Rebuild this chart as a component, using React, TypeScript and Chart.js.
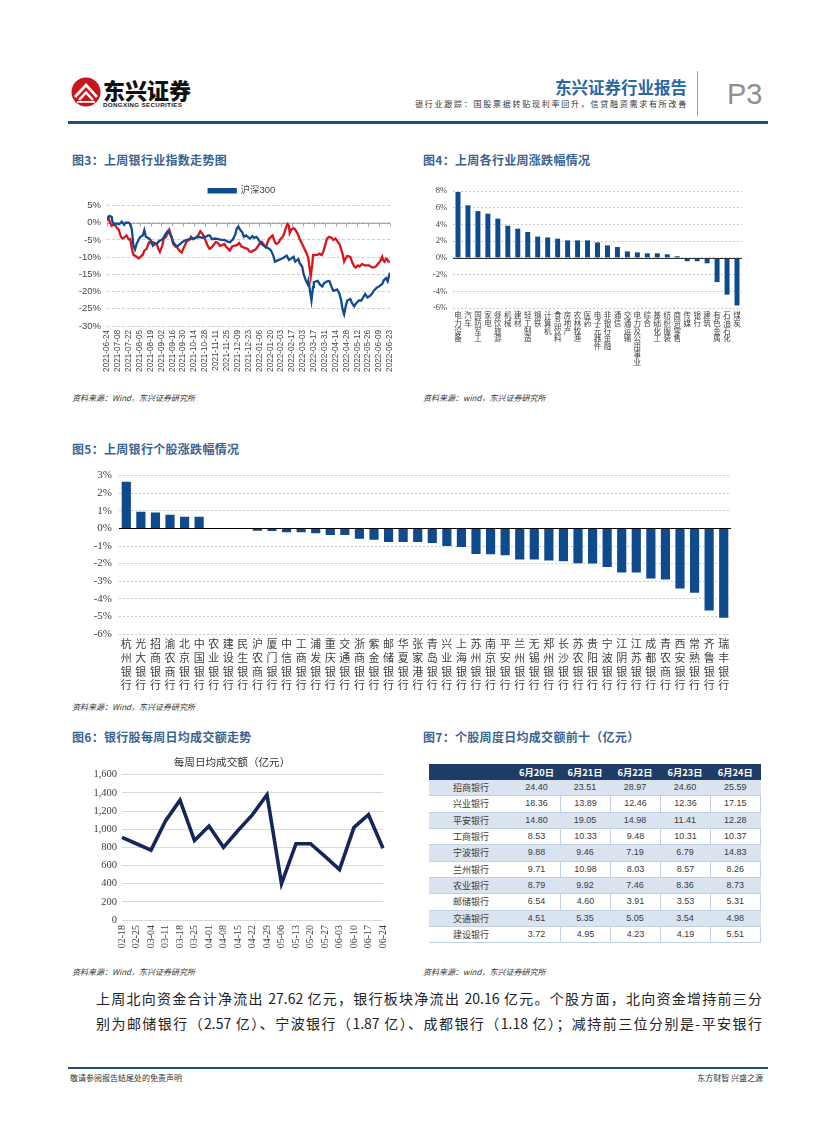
import React, { useEffect, useRef } from "react";
import { Chart, registerables } from "chart.js";

Chart.register(...registerables);

// ---------------- Fig 3: index trend ----------------
const fig3TickLabels = [
  "2021-06-24", "2021-07-08", "2021-07-22", "2021-08-05", "2021-08-19", "2021-09-02",
  "2021-09-16", "2021-09-30", "2021-10-14", "2021-10-28", "2021-11-11", "2021-11-25",
  "2021-12-09", "2021-12-23", "2022-01-06", "2022-01-20", "2022-02-03", "2022-02-17",
  "2022-03-03", "2022-03-17", "2022-03-31", "2022-04-14", "2022-04-28", "2022-05-12",
  "2022-05-26", "2022-06-09", "2022-06-23",
];
const fig3HsDays = [
  0, 3, 6, 7, 10, 12, 16, 19, 22, 24, 28, 30, 32, 34, 36, 38, 41, 43, 46, 48, 50, 54, 56, 59, 62,
  65, 67, 70, 72, 75, 78, 80, 83, 85, 88, 90, 94, 97, 101, 105, 109, 114, 118, 122, 126, 130, 132,
  135, 139, 143, 147, 151, 156, 158, 162, 165, 167, 169, 171, 174, 176, 179, 181, 184, 187, 189,
  192, 194, 197, 199, 202, 205, 209, 211, 214, 216, 219, 223, 227, 231, 234, 237, 240, 242, 246,
  248, 251, 253, 256, 258, 259, 261, 263, 265, 266, 269, 271, 274, 277, 279, 283, 286, 289, 291,
  294, 296, 299, 301, 303, 305, 307, 309, 313, 315, 318, 320, 324, 327, 330, 332, 335, 338, 341,
  343, 347, 350, 354, 356, 359, 361, 362, 364,
];
const fig3HsValues = [
  1.2, 2.0, 1.7, 0.3, -0.6, -0.2, -0.4, 0.3, -0.6, 0, 0, -0.4, -2.0, -6.7, -7.8, -6.2, -4.8, -4.1,
  -3.7, -2.2, -4.1, -4.6, -5.0, -6.7, -6.2, -5.9, -5.3, -5.0, -4.6, -3.4, -2.5, -3.0, -4.1, -5.6,
  -6.5, -6.9, -6.2, -5.6, -5.1, -4.8, -4.6, -4.4, -4.1, -4.4, -4.2, -3.7, -3.7, -4.8, -4.6, -4.8,
  -5.0, -5.0, -5.6, -5.7, -4.8, -3.4, -1.6, -1.1, -2.0, -2.8, -4.1, -3.7, -4.1, -4.6, -3.9, -4.4,
  -4.1, -4.6, -5.7, -6.2, -6.7, -7.1, -7.6, -8.1, -9.6, -11.3, -11.0, -10.6, -10.2, -9.6, -10.8,
  -10.4, -9.9, -11.3, -10.6, -11.8, -12.7, -15.0, -16.9, -17.8, -16.9, -19.6, -22.6, -18.7, -17.3,
  -17.0, -16.9, -18.0, -18.5, -17.6, -17.0, -16.9, -18.7, -19.8, -19.6, -19.4, -20.6, -22.4, -25.2,
  -26.6, -24.3, -22.6, -22.2, -23.3, -24.3, -23.5, -22.6, -22.6, -21.5, -20.7, -21.7, -21.3, -20.6,
  -19.8, -18.9, -18.5, -17.8, -16.7, -16.1, -17.0, -16.1, -14.5,
];
const fig3BankDays = [
  0, 2, 4, 6, 10, 12, 15, 18, 20, 23, 25, 28, 30, 32, 34, 36, 38, 41, 43, 46, 48, 51, 54, 56, 59,
  61, 64, 66, 68, 71, 73, 76, 78, 80, 83, 85, 88, 90, 93, 96, 98, 101, 103, 106, 108, 111, 114, 117,
  120, 122, 125, 127, 130, 132, 135, 138, 140, 143, 145, 148, 151, 153, 156, 158, 161, 163, 167,
  170, 173, 175, 178, 181, 183, 186, 188, 191, 193, 196, 199, 201, 204, 205, 208, 211, 213, 216,
  218, 221, 223, 226, 228, 230, 232, 234, 235, 237, 240, 242, 245, 248, 251, 254, 257, 259, 260,
  262, 264, 265, 268, 271, 273, 276, 278, 281, 283, 286, 289, 291, 294, 296, 299, 301, 303, 305,
  307, 309, 313, 315, 318, 320, 323, 325, 328, 331, 334, 337, 341, 343, 346, 349, 351, 354, 355,
  357, 359, 361, 362, 364,
];
const fig3BankValues = [
  0.6, 1.2, 0, -0.9, -0.4, -1.3, -2.0, -4.1, -4.6, -4.1, -3.7, -4.8, -4.8, -7.6, -9.3, -9.6, -9.9,
  -10.4, -9.9, -9.3, -8.1, -7.6, -5.7, -5.9, -5.6, -5.9, -6.2, -7.6, -8.5, -6.7, -4.6, -4.1, -2.8,
  -2.0, -4.1, -6.2, -6.9, -7.1, -8.1, -8.7, -7.6, -6.2, -5.3, -5.0, -4.1, -4.8, -4.4, -3.7, -2.5,
  -3.0, -4.1, -5.3, -6.9, -7.6, -7.1, -6.2, -5.6, -5.9, -6.7, -6.5, -6.2, -6.9, -7.6, -8.1, -6.9,
  -6.7, -6.5, -5.9, -6.9, -7.1, -7.4, -7.6, -8.3, -8.5, -8.1, -7.8, -7.2, -6.2, -5.6, -6.2, -7.1,
  -6.7, -4.8, -4.1, -3.7, -5.7, -6.2, -5.7, -4.8, -4.1, -3.0, -1.6, -0.4, -0.9, -3.0, -2.0, -1.6,
  -2.0, -3.1, -4.8, -6.2, -7.6, -9.0, -10.4, -12.2, -15.7, -12.2, -9.4, -9.4, -9.3, -9.0, -9.4,
  -8.5, -6.2, -4.6, -4.1, -4.4, -5.0, -4.6, -5.3, -6.2, -7.6, -9.0, -11.3, -10.4, -9.6, -9.9,
  -11.3, -12.7, -13.0, -12.4, -12.7, -12.0, -12.4, -12.4, -12.4, -13.0, -13.0, -12.7, -11.8, -11.3,
  -9.9, -10.8, -11.3, -10.4, -10.8, -11.3, -11.3,
];

// ---------------- Fig 4: industries ----------------
const fig4Industries = [
  "电力设备", "汽车", "国防军工", "家电", "餐饮旅游", "机械", "建材", "轻工制造", "钢铁", "计算机",
  "食品饮料", "房地产", "农林牧渔", "医药", "电子元器件", "非银行金融", "通信", "交通运输",
  "电力及公用事业", "综合", "基础化工", "纺织服装", "商贸零售", "传媒", "银行", "建筑",
  "有色金属", "石油石化", "煤炭",
];
const fig4Changes = [
  7.9, 6.3, 5.6, 5.3, 4.7, 3.85, 3.5, 3.1, 2.55, 2.45, 2.3, 2.1, 2.1, 2.1, 1.85, 1.5, 1.3, 0.78,
  0.66, 0.55, 0.55, 0.43, 0.2, -0.4, -0.4, -0.65, -2.9, -4.4, -5.7,
];

// ---------------- Fig 5: bank stocks ----------------
const fig5Banks = [
  "杭州银行", "光大银行", "招商银行", "渝农商行", "北京银行", "中国银行", "农业银行", "建设银行",
  "民生银行", "沪农商行", "厦门银行", "中信银行", "工商银行", "浦发银行", "重庆银行", "交通银行",
  "浙商银行", "紫金银行", "邮储银行", "华夏银行", "张家港行", "青岛银行", "兴业银行", "上海银行",
  "苏州银行", "南京银行", "平安银行", "兰州银行", "无锡银行", "郑州银行", "长沙银行", "苏农银行",
  "贵阳银行", "宁波银行", "江阴银行", "江苏银行", "成都银行", "青农商行", "西安银行", "常熟银行",
  "齐鲁银行", "瑞丰银行",
];
const fig5Changes = [
  2.65, 0.95, 0.9, 0.77, 0.66, 0.66, 0.0, -0.01, -0.03, -0.13, -0.15, -0.22, -0.22, -0.28, -0.37,
  -0.37, -0.59, -0.64, -0.77, -0.77, -0.77, -0.83, -1.0, -1.06, -1.45, -1.47, -1.52, -1.76, -1.76,
  -1.82, -1.87, -1.98, -2.0, -2.2, -2.5, -2.5, -2.84, -2.9, -3.41, -3.65, -4.66, -5.08,
];

// ---------------- Fig 6: weekly turnover ----------------
const fig6Weeks = [
  "02-18", "02-25", "03-04", "03-11", "03-18", "03-25", "04-01", "04-08", "04-15", "04-22",
  "04-29", "05-06", "05-13", "05-20", "05-27", "06-03", "06-10", "06-17", "06-24",
];
const fig6Turnover = [
  910, 840, 770, 1090, 1320, 875, 1035, 800, 985, 1160, 1380, 400, 840, 840, 700, 555, 1020, 1160, 790,
];

// ---------------- Fig 7: table ----------------
const fig7Dates = ["6月20日", "6月21日", "6月22日", "6月23日", "6月24日"];
const fig7Banks = ["招商银行", "兴业银行", "平安银行", "工商银行", "宁波银行", "兰州银行", "农业银行", "邮储银行", "交通银行", "建设银行"];
const fig7Jun20 = ["24.40", "18.36", "14.80", "8.53", "9.88", "9.71", "8.79", "6.54", "4.51", "3.72"];
const fig7Jun21 = ["23.51", "13.89", "19.05", "10.33", "9.46", "10.98", "9.92", "4.60", "5.35", "4.95"];
const fig7Jun22 = ["28.97", "12.46", "14.98", "9.48", "7.19", "8.03", "7.46", "3.91", "5.05", "4.23"];
const fig7Jun23 = ["24.60", "12.36", "11.41", "10.31", "6.79", "8.57", "8.36", "3.53", "3.54", "4.19"];
const fig7Jun24 = ["25.59", "17.15", "12.28", "10.37", "14.83", "8.26", "8.73", "5.31", "4.98", "5.51"];

// ---------------- styles ----------------
const SANS = "'Liberation Sans', 'Noto Sans CJK SC', sans-serif";
const SERIF = "'Liberation Serif', 'Noto Sans CJK SC', serif";
const CJK = "'Noto Sans CJK SC', sans-serif";
const BLUE = "#0f4c8f";
const RED = "#d8141c";
const BAR = "#0f4a8c";
const NAVY = "#15275a";
const TITLE_BLUE = "#3a6390";

const zip = (xs: number[], ys: number[]) => xs.map((x, i) => ({ x, y: ys[i] }));

function drawZero(chart: any, opts: any) {
  const ys = chart.scales.y;
  const y = Math.round(ys.getPixelForValue(0)) + 0.5;
  const { left, right } = chart.chartArea;
  const ctx = chart.ctx;
  ctx.save();
  ctx.strokeStyle = opts.color || "#000";
  ctx.lineWidth = opts.width || 1;
  ctx.beginPath();
  ctx.moveTo(left, y);
  ctx.lineTo(right, y);
  if (opts.tickLen) {
    const xs = chart.scales.x;
    xs.ticks.forEach((t: any) => {
      const x = Math.round(xs.getPixelForValue(t.value)) + 0.5;
      ctx.moveTo(x, y);
      ctx.lineTo(x, y + opts.tickLen);
    });
  }
  ctx.stroke();
  ctx.restore();
}

const zeroLinePlugin = {
  id: "zeroLine",
  beforeDatasetsDraw(chart: any, _a: any, opts: any) {
    if (opts && opts.behind) drawZero(chart, opts);
  },
  afterDatasetsDraw(chart: any, _a: any, opts: any) {
    if (opts && !opts.behind) drawZero(chart, opts);
  },
};

// nudges the legend box horizontally after layout
const legendShiftPlugin = {
  id: "legendShift",
  afterLayout(chart: any, _a: any, opts: any) {
    const dx = (opts && opts.dx) || 0;
    if (chart.legend && dx) {
      chart.legend.left += dx;
      chart.legend.right += dx;
    }
  },
};

function fig3Config(): any {
  return {
    type: "line",
    data: {
      datasets: [
        { label: "沪深300", data: zip(fig3HsDays, fig3HsValues), borderColor: BLUE, backgroundColor: BLUE, borderWidth: 2.3, pointRadius: 0, tension: 0 },
        { label: "银行", data: zip(fig3BankDays, fig3BankValues), borderColor: RED, backgroundColor: RED, borderWidth: 2.3, pointRadius: 0, tension: 0 },
      ],
    },
    options: {
      responsive: false,
      animation: false,
      layout: { padding: { top: 2, right: 24, left: 0, bottom: 0 } },
      plugins: {
        legend: {
          display: true,
          position: "top",
          labels: {
            boxWidth: 27, boxHeight: 3, padding: 4, color: "#444",
            font: { size: 9.5, family: SANS },
            filter: (item: any) => item.text === "沪深300",
          },
        },
        legendShift: { dx: 12 },
        tooltip: { enabled: false },
        zeroLine: { behind: true, color: "#a6a6a6", width: 1, tickLen: 3 },
      },
      scales: {
        x: {
          type: "linear", min: 0, max: 364,
          grid: { display: false, drawTicks: false },
          border: { display: false },
          ticks: {
            stepSize: 14, autoSkip: false, maxRotation: 90, minRotation: 90, padding: 4,
            color: "#444", font: { size: 8.2, family: SANS },
            callback: (v: number) => {
              const i = Math.round(v / 14);
              return Math.abs(v - i * 14) < 0.01 ? fig3TickLabels[i] || "" : "";
            },
          },
          afterFit: (s: any) => { s.height = 46; },
        },
        y: {
          min: -30, max: 5,
          grid: { color: "#d0d0d0", drawTicks: false },
          border: { display: false, dash: [3, 2] },
          ticks: { stepSize: 5, padding: 6, color: "#444", font: { size: 9.5, family: SANS }, callback: (v: number) => v + "%" },
          afterFit: (s: any) => { s.width = 37; },
        },
      },
    },
    plugins: [zeroLinePlugin, legendShiftPlugin],
  };
}

function barConfig(labels: string[], values: number[], o: any): any {
  return {
    type: "bar",
    data: {
      labels,
      datasets: [{ data: values, backgroundColor: BAR, borderWidth: 0, barPercentage: o.barPct, categoryPercentage: 1 }],
    },
    options: {
      responsive: false,
      animation: false,
      layout: { padding: { top: o.padTop, right: o.padRight, left: 0, bottom: 0 } },
      plugins: { legend: { display: false }, tooltip: { enabled: false }, zeroLine: { color: o.zeroColor, width: 1 } },
      scales: {
        x: {
          grid: { display: false, drawTicks: false },
          border: { display: false },
          ticks: {
            autoSkip: false, maxRotation: 0, minRotation: 0, padding: 3, color: "#404040",
            font: { size: o.xFont, family: CJK, lineHeight: o.xLine },
            callback: (_v: any, i: number) => labels[i].split(""),
          },
          afterFit: (s: any) => { s.height = o.xHeight; },
        },
        y: {
          min: o.min, max: o.max,
          grid: { color: "#c8c8c8", drawTicks: false },
          border: { display: false, dash: [2, 2] },
          ticks: { stepSize: o.step, padding: o.yPad, color: "#404040", font: { size: o.yFont, family: SERIF }, callback: (v: number) => v + "%" },
          afterFit: (s: any) => { s.width = o.yWidth; },
        },
      },
    },
    plugins: [zeroLinePlugin],
  };
}

function fig6Config(): any {
  return {
    type: "line",
    data: {
      labels: fig6Weeks,
      datasets: [{ data: fig6Turnover, borderColor: NAVY, backgroundColor: NAVY, borderWidth: 3.6, pointRadius: 0, tension: 0, borderJoinStyle: "miter" }],
    },
    options: {
      responsive: false,
      animation: false,
      layout: { padding: { top: 0, right: 6, left: 0, bottom: 0 } },
      plugins: {
        legend: { display: false },
        tooltip: { enabled: false },
        title: { display: true, text: "每周日均成交额（亿元）", color: "#333", font: { size: 10.6, family: CJK, weight: "normal", lineHeight: 1.2 }, padding: { top: 4, bottom: 6 } },
      },
      scales: {
        x: {
          offset: false,
          grid: { display: false, drawTicks: false },
          border: { display: false },
          ticks: { autoSkip: false, maxRotation: 90, minRotation: 90, padding: 5, color: "#404040", font: { size: 10, family: SERIF } },
          afterFit: (s: any) => { s.height = 36; },
        },
        y: {
          min: 0, max: 1600,
          grid: { color: "#d9d9d9", drawTicks: false },
          border: { display: false },
          ticks: { stepSize: 200, padding: 5, color: "#404040", font: { size: 10.5, family: SERIF }, callback: (v: number) => v.toLocaleString("en-US") },
          afterFit: (s: any) => { s.width = 52; },
        },
      },
    },
  };
}

function ChartBox({ make, left, top, width, height }: any) {
  const ref = useRef<HTMLCanvasElement>(null);
  useEffect(() => {
    const chart = new Chart(ref.current as HTMLCanvasElement, make());
    return () => chart.destroy();
  }, []);
  return (
    <div style={{ position: "absolute", left, top, width, height }}>
      <canvas ref={ref} width={width} height={height} style={{ width, height, display: "block" }} />
    </div>
  );
}

function T({ x, y, size, children, style }: any) {
  return (
    <div style={{ position: "absolute", left: x, top: y, fontSize: size, lineHeight: 1, whiteSpace: "nowrap", ...style }}>
      {children}
    </div>
  );
}

function Table() {
  const cols = [fig7Jun20, fig7Jun21, fig7Jun22, fig7Jun23, fig7Jun24];
  const widths = [84, 47, 50, 50, 50, 50.5];
  const rowH = 16.33;
  return (
    <div style={{ position: "absolute", left: 429, top: 764, width: 331.5 }}>
      <div style={{ display: "flex", height: 16, background: "#1f3c66", color: "#fff", fontWeight: 700, fontSize: 9.3, fontFamily: CJK }}>
        <div style={{ width: widths[0] }} />
        {fig7Dates.map((d, i) => (
          <div key={d} style={{ width: widths[i + 1], textAlign: "center", lineHeight: "16px" }}>{d}</div>
        ))}
      </div>
      {fig7Banks.map((b, r) => {
        const shaded = r % 2 === 0;
        return (
          <div key={b} style={{ display: "flex", height: rowH, boxSizing: "border-box", background: shaded ? "#dae4f1" : "#fff", borderBottom: "1px solid #c3d1e4", color: "#3a3a3a" }}>
            <div style={{ width: widths[0], textAlign: "center", lineHeight: rowH - 1 + "px", fontSize: 9, fontFamily: CJK }}>{b}</div>
            {cols.map((c, i) => (
              <div key={i} style={{ width: widths[i + 1], textAlign: "center", lineHeight: rowH - 1 + "px", fontSize: 9, fontFamily: SANS, boxSizing: "border-box", borderLeft: !shaded && i > 0 ? "1px solid #c3d1e4" : "none", borderRight: !shaded && i === 4 ? "1px solid #c3d1e4" : "none" }}>{c[r]}</div>
            ))}
          </div>
        );
      })}
    </div>
  );
}

function Logo() {
  return (
    <svg width={30} height={30} viewBox="0 0 30 30" style={{ position: "absolute", left: 71, top: 77 }}>
      <circle cx={15} cy={15} r={14.5} fill="#c8161e" />
      <path d="M4 20 L15 8 L26 20" stroke="#fff" strokeWidth={2.6} fill="none" />
      <path d="M8 23 L15 15.5 L22 23" stroke="#fff" strokeWidth={2.4} fill="none" />
      <rect x={6} y={24} width={18} height={1.8} fill="#fff" />
    </svg>
  );
}

export default function App() {
  const titleStyle = { fontFamily: CJK, fontWeight: 700, color: TITLE_BLUE, letterSpacing: 0.3 };
  const srcStyle = { fontFamily: CJK, fontStyle: "italic", color: "#333" };
  return (
    <div style={{ position: "absolute", left: 0, top: 0, width: 827, height: 1122, background: "#fff", fontFamily: CJK, overflow: "hidden" }}>
      {/* header */}
      <Logo />
      <T x={103} y={78} size={22} style={{ fontWeight: 900, color: "#111", fontFamily: CJK }}>东兴证券</T>
      <T x={103} y={102} size={6.2} style={{ fontWeight: 700, color: "#222", fontFamily: SANS, letterSpacing: 0.35 }}>DONGXING SECURITIES</T>
      <T x={555} y={79} size={16.5} style={{ fontWeight: 700, color: "#2c67a5", fontFamily: CJK }}>东兴证券行业报告</T>
      <T x={415} y={100} size={8} style={{ color: "#333", fontFamily: CJK, letterSpacing: 1.75 }}>银行业跟踪：国股票据转贴现利率回升，信贷融资需求有所改善</T>
      <div style={{ position: "absolute", left: 697, top: 71, width: 1, height: 45, background: "#a0a0a0" }} />
      <T x={727} y={80} size={29} style={{ color: "#8f8f8f", fontFamily: SANS }}>P3</T>
      <div style={{ position: "absolute", left: 68, top: 121, width: 700, height: 3, background: "#1f4f82" }} />

      {/* Fig 3 */}
      <T x={72} y={154} size={12} style={titleStyle}>图3：上周银行业指数走势图</T>
      <ChartBox make={fig3Config} left={70} top={180} width={344} height={192} />
      <T x={72} y={394} size={8} style={srcStyle}>资料来源：Wind，东兴证券研究所</T>

      {/* Fig 4 */}
      <T x={423} y={154} size={12} style={titleStyle}>图4：上周各行业周涨跌幅情况</T>
      <ChartBox
        make={() => barConfig(fig4Industries, fig4Changes, { barPct: 0.5, padTop: 8, padRight: 31, zeroColor: "#333", xFont: 7.5, xLine: 1.05, xHeight: 62, min: -6, max: 8, step: 2, yPad: 6, yFont: 8.5, yWidth: 30 })}
        left={423} top={180} width={350} height={190}
      />
      <T x={423} y={394} size={8} style={srcStyle}>资料来源：wind，东兴证券研究所</T>

      {/* Fig 5 */}
      <T x={72} y={443} size={12} style={titleStyle}>图5：上周银行个股涨跌幅情况</T>
      <ChartBox
        make={() => barConfig(fig5Banks, fig5Changes, { barPct: 0.63, padTop: 6, padRight: 9, zeroColor: "#000", xFont: 11, xLine: 1.25, xHeight: 60, min: -6, max: 3, step: 1, yPad: 7, yFont: 11, yWidth: 49 })}
        left={70} top={462} width={670} height={232}
      />
      <T x={72} y={703} size={8} style={srcStyle}>资料来源：Wind，东兴证券研究所</T>

      {/* Fig 6 */}
      <T x={72} y={730.5} size={12} style={titleStyle}>图6：银行股每周日均成交额走势</T>
      <ChartBox make={fig6Config} left={70} top={752} width={330} height={204} />
      <T x={72} y={968} size={8} style={srcStyle}>资料来源：Wind，东兴证券研究所</T>

      {/* Fig 7 */}
      <T x={423} y={730.5} size={12} style={titleStyle}>图7：个股周度日均成交额前十（亿元）</T>
      <Table />
      <T x={423} y={968} size={8} style={srcStyle}>资料来源：wind，东兴证券研究所</T>

      {/* body text */}
      <div style={{ position: "absolute", left: 96, top: 991, width: 666, fontSize: 14, lineHeight: 1, color: "#222", fontFamily: CJK, textAlign: "justify", textAlignLast: "justify" }}>
        上周北向资金合计净流出 27.62 亿元，银行板块净流出 20.16 亿元。个股方面，北向资金增持前三分
      </div>
      <div style={{ position: "absolute", left: 96, top: 1016, width: 666, fontSize: 14, lineHeight: 1, color: "#222", fontFamily: CJK, textAlign: "justify", textAlignLast: "justify" }}>
        别为邮储银行（2.57 亿）、宁波银行（1.87 亿）、成都银行（1.18 亿）；减持前三位分别是-平安银行
      </div>

      {/* footer */}
      <div style={{ position: "absolute", left: 68, top: 1067, width: 700, height: 2, background: "#1f4f82" }} />
      <T x={70} y={1074} size={8} style={{ color: "#333", fontFamily: CJK }}>敬请参阅报告结尾处的免责声明</T>
      <div style={{ position: "absolute", right: 64, top: 1074, fontSize: 8, lineHeight: 1, color: "#333", fontFamily: CJK, whiteSpace: "nowrap" }}>东方财智 兴盛之源</div>
    </div>
  );
}
